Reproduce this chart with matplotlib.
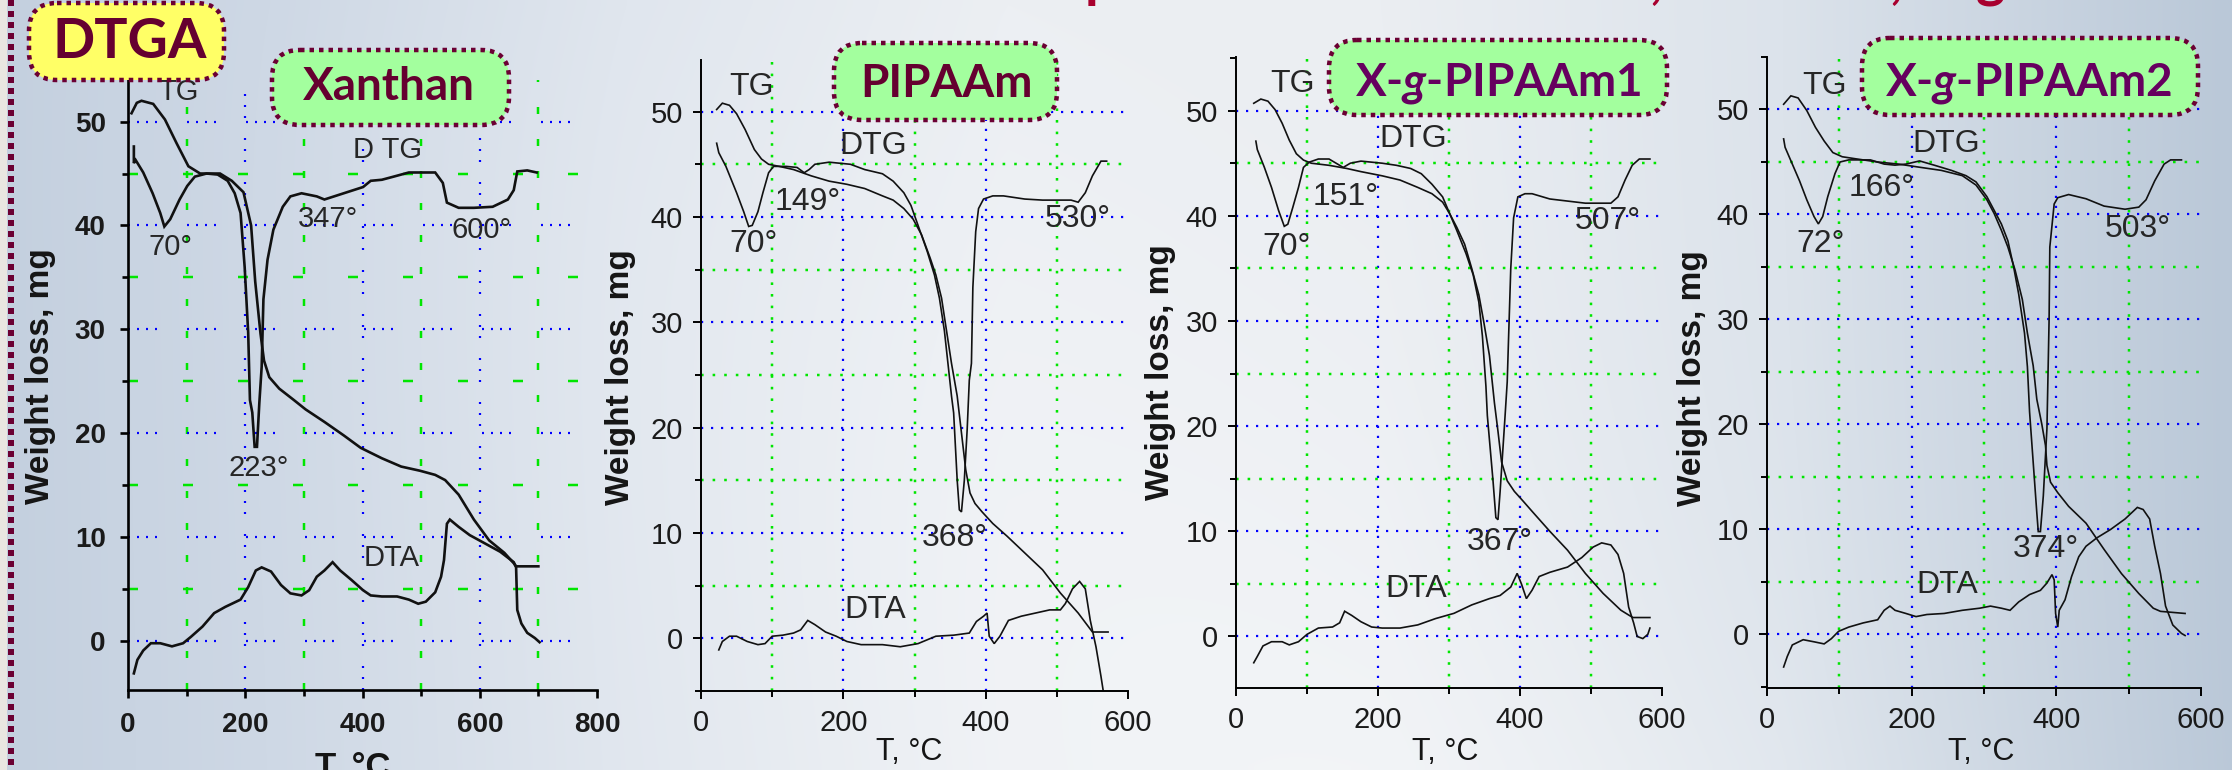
import numpy as np
import matplotlib.pyplot as plt
from matplotlib.patches import FancyBboxPatch, Rectangle
from matplotlib.ticker import MultipleLocator

plt.rcParams['font.family'] = ['Liberation Sans', 'DejaVu Sans']
plt.rcParams['lines.scale_dashes'] = False
plt.rcParams['mathtext.fontset'] = 'custom'
plt.rcParams['mathtext.it'] = 'Lato:italic:bold'
plt.rcParams['mathtext.rm'] = 'Lato:bold'

W, H = 2232, 770
PT = 0.72  # points per pixel at 100 dpi

# ---- Xanthan ----
xan_tg_t = [6, 15, 23, 43, 63, 83, 103, 123, 157, 177, 197, 210, 217, 226, 232, 241, 258, 283, 303,
            335, 368, 397, 433, 466, 498, 524, 541, 564, 590, 616, 642, 658, 662, 700]
xan_tg = [50.8, 51.8, 52.0, 51.7, 50.2, 47.9, 45.7, 45.0, 45.0, 44.3, 43.2, 40.0, 34.6, 29.6, 27.0, 25.4,
          24.3, 23.2, 22.3, 21.1, 19.8, 18.6, 17.6, 16.8, 16.4, 16.0, 15.5, 14.1, 11.7, 9.7, 8.5, 7.5, 7.2, 7.2]
xan_dtg_t = [10, 10, 13, 26, 42, 55, 62, 72, 88, 101, 114, 134, 153, 170, 182, 192, 199, 205, 208, 212,
             216, 220, 224, 228, 231, 238, 248, 264, 277, 296, 322, 335, 368, 401, 414, 433, 453, 479,
             524, 537, 544, 564, 590, 622, 648, 658, 664, 681, 697]
xan_dtg = [47.6, 46.0, 46.3, 45.1, 43.1, 41.2, 39.9, 40.6, 42.5, 43.8, 44.7, 45.0, 44.9, 44.3, 43.1, 41.2,
           36.0, 29.7, 23.2, 22.0, 18.7, 18.7, 22.9, 26.4, 32.9, 36.7, 39.6, 41.8, 42.8, 43.1, 42.8, 42.5,
           43.1, 43.7, 44.3, 44.4, 44.7, 45.1, 45.1, 44.1, 42.2, 41.7, 41.7, 41.8, 42.5, 43.4, 45.2, 45.3, 45.1]
xan_dta_t = [10, 16, 26, 39, 55, 75, 94, 107, 127, 147, 166, 192, 205, 218, 228, 244, 261, 277, 296, 309,
             322, 335, 349, 362, 381, 401, 414, 433, 459, 479, 495, 508, 524, 534, 539, 544, 549, 564, 583,
             609, 635, 658, 662, 664, 671, 681, 694, 702]
xan_dta = [-3.1, -1.8, -0.9, -0.2, -0.2, -0.5, -0.2, 0.4, 1.4, 2.7, 3.3, 4.0, 5.2, 6.8, 7.1, 6.7, 5.4, 4.6,
           4.4, 4.9, 6.2, 6.8, 7.6, 6.8, 5.9, 4.9, 4.4, 4.3, 4.3, 4.0, 3.6, 3.8, 4.7, 6.2, 7.8, 11.3, 11.7,
           11.0, 10.2, 9.4, 8.6, 7.6, 7.1, 3.0, 1.7, 0.8, 0.3, -0.1]

# ---- PIPAAm ----
pip_tg_t = [22, 30, 40, 50, 62, 75, 85, 95, 110, 130, 155, 180, 205, 230, 255, 270, 285, 298, 310, 322,
            330, 338, 345, 352, 360, 366, 372, 378, 385, 395, 410, 430, 455, 480, 505, 530, 550, 572]
pip_tg = [50.2, 50.8, 50.6, 49.8, 48.3, 46.4, 45.5, 45.0, 44.8, 44.5, 43.9, 43.4, 43.1, 42.7, 42.0, 41.6,
          40.8, 39.8, 38.3, 36.1, 34.5, 32.3, 29.2, 26.1, 23.0, 19.5, 16.0, 13.8, 12.8, 12.0, 10.9, 9.7,
          8.1, 6.5, 4.3, 2.4, 0.6, 0.6]
pip_dtg_t = [22, 25, 35, 50, 60, 67, 72, 80, 87, 95, 102, 120, 135, 145, 152, 160, 180, 210, 230, 255,
             270, 285, 295, 305, 318, 328, 335, 342, 347, 352, 355, 360, 363, 366, 370, 374, 377, 380,
             382, 386, 390, 397, 410, 425, 455, 480, 520, 530, 540, 550, 562, 570]
pip_dtg = [47.0, 46.1, 44.8, 42.3, 40.5, 39.1, 39.2, 40.5, 42.3, 44.2, 44.8, 44.8, 44.7, 44.2, 44.5, 45.0,
           45.2, 45.0, 44.5, 44.1, 43.4, 42.3, 41.1, 39.2, 36.7, 34.5, 32.3, 29.2, 26.1, 23.0, 21.4, 15.0,
           12.2, 12.0, 15.0, 19.8, 24.5, 26.1, 33.3, 38.6, 40.8, 41.7, 42.0, 42.0, 41.7, 41.6, 41.6, 41.4,
           42.3, 43.9, 45.3, 45.3]
pip_dta_t = [25, 30, 40, 50, 65, 80, 90, 100, 115, 130, 140, 150, 160, 175, 190, 205, 225, 255, 280, 305,
             330, 355, 377, 387, 397, 402, 405, 412, 420, 432, 450, 470, 490, 505, 512, 522, 532, 540, 547,
             555, 562, 565]
pip_dta = [-1.1, -0.3, 0.2, 0.2, -0.3, -0.6, -0.5, 0.2, 0.3, 0.5, 0.8, 1.7, 1.3, 0.6, 0.2, -0.3, -0.6,
           -0.6, -0.8, -0.5, 0.2, 0.3, 0.5, 1.6, 2.1, 2.4, 0.2, -0.5, 0.2, 1.7, 2.1, 2.4, 2.7, 2.7, 3.3,
           4.7, 5.4, 4.7, 1.7, -0.8, -3.6, -4.9]

# ---- X-g-PIPAAm1 ----
g1_tg_t = [25, 35, 45, 55, 65, 75, 85, 95, 106, 131, 156, 176, 206, 231, 256, 276, 291, 301, 311, 322,
           332, 342, 349, 357, 364, 369, 374, 382, 392, 404, 417, 442, 467, 492, 517, 542, 554, 559, 583]
g1_tg = [50.7, 51.1, 50.9, 50.1, 48.8, 47.2, 45.9, 45.3, 45.0, 44.8, 44.5, 44.2, 43.8, 43.4, 42.7, 42.1,
         41.3, 40.2, 38.9, 37.3, 35.0, 32.5, 29.9, 26.7, 22.2, 19.5, 16.6, 14.8, 13.8, 12.9, 11.9, 10.0,
         8.2, 6.0, 4.1, 2.5, 2.0, 1.8, 1.8]
g1_dtg_t = [28, 30, 40, 50, 60, 68, 73, 80, 88, 95, 103, 116, 131, 141, 151, 161, 176, 206, 226, 246,
            261, 276, 291, 301, 311, 324, 334, 342, 347, 352, 354, 362, 366, 369, 372, 376, 379, 382, 384,
            387, 391, 397, 407, 417, 442, 467, 492, 528, 538, 548, 558, 568, 583]
g1_dtg = [47.1, 46.3, 44.6, 42.7, 40.5, 39.0, 39.2, 40.8, 42.7, 44.6, 45.1, 45.4, 45.4, 45.0, 44.6, 45.0,
          45.2, 45.0, 44.8, 44.5, 44.0, 43.0, 41.8, 40.2, 38.6, 36.4, 34.4, 31.8, 28.6, 23.8, 21.0, 14.8,
          11.3, 11.1, 13.8, 17.9, 21.0, 24.2, 28.6, 35.0, 39.8, 41.8, 42.1, 42.1, 41.6, 41.4, 41.2, 41.2,
          41.8, 43.4, 44.8, 45.4, 45.4]
g1_dta_t = [25, 30, 38, 50, 65, 75, 88, 100, 116, 136, 146, 153, 163, 176, 191, 206, 231, 256, 281, 307,
            332, 357, 372, 387, 396, 402, 409, 417, 427, 442, 467, 487, 503, 515, 528, 538, 546, 553, 560,
            565, 573, 580, 583]
g1_dta = [-2.5, -1.9, -0.9, -0.5, -0.5, -0.8, -0.5, 0.2, 0.8, 0.9, 1.3, 2.4, 2.0, 1.4, 0.9, 0.8, 0.8,
          1.1, 1.7, 2.2, 3.0, 3.6, 3.9, 4.7, 6.0, 5.0, 3.6, 4.4, 5.7, 6.1, 6.6, 7.5, 8.5, 8.9, 8.7, 7.8,
          6.0, 2.8, 1.3, 0.0, -0.2, 0.2, 0.8]

# ---- X-g-PIPAAm2 ----
g2_tg_t = [23, 33, 43, 55, 67, 79, 91, 104, 123, 153, 182, 211, 241, 270, 289, 304, 314, 324, 333, 343,
           353, 360, 368, 373, 380, 385, 387, 392, 402, 417, 441, 466, 490, 514, 534, 544, 578]
g2_tg = [50.5, 51.3, 51.1, 49.9, 48.3, 47.0, 45.9, 45.5, 45.3, 45.0, 44.8, 44.5, 44.2, 43.7, 42.8, 41.4,
         40.1, 38.5, 36.9, 34.7, 31.9, 28.7, 25.6, 22.4, 20.0, 18.0, 16.1, 14.5, 13.5, 12.2, 10.6, 8.1,
         5.8, 3.9, 2.5, 2.2, 2.0]
g2_dtg_t = [23, 25, 35, 45, 55, 65, 71, 77, 84, 94, 101, 113, 143, 162, 177, 192, 211, 231, 255, 275,
            289, 304, 314, 324, 333, 341, 348, 356, 360, 363, 368, 373, 375, 378, 382, 387, 390, 391, 397,
            402, 417, 441, 466, 495, 514, 524, 536, 549, 558, 573]
g2_dtg = [47.2, 46.4, 44.8, 43.2, 41.4, 39.8, 39.1, 39.8, 41.7, 43.9, 45.0, 45.2, 45.2, 44.8, 44.7, 44.8,
          45.1, 44.7, 44.2, 43.7, 43.1, 41.7, 40.4, 39.1, 37.5, 35.0, 32.4, 28.7, 25.5, 21.2, 16.4, 11.6,
          9.8, 9.8, 13.2, 19.6, 30.0, 36.9, 41.0, 41.6, 41.9, 41.5, 40.8, 40.5, 40.7, 41.4, 43.2, 44.8,
          45.2, 45.2]
g2_dta_t = [23, 28, 35, 50, 65, 79, 89, 99, 113, 133, 153, 162, 170, 177, 192, 206, 221, 245, 270, 294,
            309, 324, 336, 348, 363, 378, 387, 394, 397, 399, 402, 404, 412, 421, 431, 441, 456, 475, 495,
            512, 520, 529, 536, 544, 551, 561, 573, 578]
g2_dta = [-3.1, -2.1, -1.0, -0.5, -0.7, -0.9, -0.4, 0.3, 0.7, 1.1, 1.4, 2.3, 2.7, 2.3, 2.0, 1.7, 1.9,
          2.0, 2.3, 2.5, 2.7, 2.5, 2.3, 3.1, 3.8, 4.2, 4.9, 5.7, 5.2, 2.0, 0.7, 2.3, 3.3, 5.5, 7.4, 8.4,
          9.2, 10.0, 11.0, 12.1, 11.9, 11.0, 8.4, 5.8, 2.7, 0.9, 0.1, -0.1]

# curve labels: (text, T, y)
xan_labels = [('TG', 87, 52.8), ('D TG', 443, 47.3), ('70°', 73, 37.9), ('347°', 342, 40.6),
              ('600°', 603, 39.6), ('223°', 223, 16.7), ('DTA', 450, 8.0)]
pip_labels = [('TG', 71, 52.3), ('DTG', 242, 46.7), ('70°', 74, 37.4), ('149°', 150, 41.4),
              ('530°', 529, 39.8), ('368°', 357, 9.5), ('DTA', 245, 2.7)]
g1_labels = [('TG', 79, 52.5), ('DTG', 249, 47.3), ('70°', 71, 37.0), ('151°', 155, 41.8),
             ('507°', 524, 39.5), ('367°', 372, 9.0), ('DTA', 254, 4.5)]
g2_labels = [('TG', 79, 52.2), ('DTG', 248, 46.7), ('72°', 74, 37.2), ('166°', 158, 42.5),
             ('503°', 513, 38.6), ('374°', 385, 8.1), ('DTA', 249, 4.7)]

sample_names = ['Xanthan', 'PIPAAm', r'X-$g$-PIPAAm1', r'X-$g$-PIPAAm2']

fig = plt.figure(figsize=(W / 100, H / 100), dpi=100)

# slide background
bg = fig.add_axes([0, 0, 1, 1], zorder=-10)
xs = np.linspace(0, 1, 300)
ys = np.linspace(0, 1, 100)[:, None]
stops = [0, 0.12, 0.28, 0.45, 0.62, 0.8, 1.0]
rgb = [[196, 208, 223], [206, 216, 229], [224, 230, 238], [236, 239, 243], [235, 238, 242],
       [220, 227, 235], [186, 200, 216]]
base = np.stack([np.interp(xs, stops, [c[i] for c in rgb]) for i in range(3)], axis=-1)[None, :, :]
sheen = 0.35 * np.exp(-((xs[None, :] - 0.35 - 0.25 * ys) / 0.22) ** 2) * ys
img = base + (255 - base) * sheen[:, :, None]
bg.imshow(img / 255, extent=[0, W, H, 0], aspect='auto', interpolation='bilinear')
bg.set_xlim(0, W)
bg.set_ylim(H, 0)
bg.axis('off')


def px_rect(left, right, top, bottom):
    return [left / W, 1 - bottom / H, (right - left) / W, (bottom - top) / H]


def make_panel(rect, xmax, ylim, series, labels, first):
    ax = fig.add_axes(rect)
    ax.patch.set_alpha(0)
    ax.set_xlim(0, xmax)
    ax.set_ylim(*ylim)
    for s in ('top', 'right'):
        ax.spines[s].set_visible(False)
    lw = 1.9 if first else 1.4
    for s in ('left', 'bottom'):
        ax.spines[s].set_linewidth(lw)
    ax.xaxis.set_major_locator(MultipleLocator(200))
    ax.xaxis.set_minor_locator(MultipleLocator(100))
    ax.yaxis.set_major_locator(MultipleLocator(10))
    ax.yaxis.set_minor_locator(MultipleLocator(5))
    ax.tick_params(which='major', direction='out', length=6, width=lw,
                   labelsize=20 if first else 21, labelcolor='#1a1a1a', pad=10 if first else 7)
    ax.tick_params(which='minor', direction='out', length=4, width=lw)

    # blue dotted lines on the labelled values, green on the half steps
    if first:
        blue_h = (0, tuple(v * PT for v in (2, 7, 2, 7, 2, 7, 2, 30)))
        blue_v = (0, tuple(v * PT for v in (2, 9, 2, 9, 2, 20)))
        green_h = (0, (10 * PT, 45 * PT))
        green_v = (0, (7 * PT, 25 * PT))
    else:
        blue_h = blue_v = (0, (2.2 * PT, 7.8 * PT))
        green_h = green_v = (0, (2.6 * PT, 9 * PT))
    for x in range(100, xmax, 100):
        if x % 200:
            ax.axvline(x, color='#00e600', lw=2.5 * PT, ls=green_v, zorder=0.5)
        else:
            ax.axvline(x, color='#0000ff', lw=2.2 * PT, ls=blue_v, zorder=0.5)
    for y in range(0, 51, 5):
        if y % 10:
            ax.axhline(y, color='#00e600', lw=2.5 * PT, ls=green_h, zorder=0.5)
        else:
            ax.axhline(y, color='#0000ff', lw=2.2 * PT, ls=blue_h, zorder=0.5)

    if first:
        for lab in ax.get_xticklabels() + ax.get_yticklabels():
            lab.set_fontweight('bold')
    clw = 1.9 if first else 1.2
    for t, v in series:
        ax.plot(t, v, color='#111111', lw=clw, solid_joinstyle='miter')
    for s, x, y in labels:
        ax.text(x, y, s, ha='center', va='center', color='#262626',
                fontsize=21 if first else 23)
    return ax


make_panel(px_rect(128, 597, 80, 690), 800, (-4.7, 54),
           [(xan_tg_t, xan_tg), (xan_dtg_t, xan_dtg), (xan_dta_t, xan_dta)], xan_labels, True)
make_panel(px_rect(701, 1128, 60, 691), 600, (-5.0, 54.9),
           [(pip_tg_t, pip_tg), (pip_dtg_t, pip_dtg), (pip_dta_t, pip_dta)], pip_labels, False)
make_panel(px_rect(1236, 1662, 57, 688), 600, (-4.9, 55.1),
           [(g1_tg_t, g1_tg), (g1_dtg_t, g1_dtg), (g1_dta_t, g1_dta)], g1_labels, False)
make_panel(px_rect(1767, 2201, 57, 688), 600, (-5.1, 55.0),
           [(g2_tg_t, g2_tg), (g2_dtg_t, g2_dtg), (g2_dta_t, g2_dta)], g2_labels, False)

# overlay in pixel coordinates for labels and badges
ov = fig.add_axes([0, 0, 1, 1], zorder=10)
ov.set_xlim(0, W)
ov.set_ylim(H, 0)
ov.axis('off')
ov.patch.set_alpha(0)

maroon = '#6b0033'
# left dotted border and paper edge
ov.add_patch(Rectangle((0, 0), 7, H, color='#e9e7e2', lw=0))
ov.plot([11, 11], [0, H], color=maroon, lw=6 * PT, linestyle=(0, (6 * PT, 5 * PT)))

# heading runs off the top edge; only the descenders show
for ch, x in [('p', 1100), (',', 1656), (',', 1896), ('g', 1990)]:
    ov.text(x, -3, ch, ha='center', va='baseline', fontsize=40, color='#a8002e',
            family=['Lato', 'DejaVu Sans'], fontweight='bold')

# axis titles
for x, y in [(41, 376), (621, 377), (1160, 372), (1692, 378)]:
    ov.text(x, y, 'Weight loss, mg', rotation=90, ha='center', va='center',
            fontsize=24, fontweight='bold', color='#151515')
ov.text(353, 777, 'T, °C', ha='center', va='baseline', fontsize=25, fontweight='bold', color='#151515')
for x in (909, 1445, 1981):
    ov.text(x, 760, 'T, °C', ha='center', va='baseline', fontsize=22, color='#151515')

# badges: (text, left, right, top, bottom, text x, baseline, fill, text colour, size)
badges = [('DTGA', 29, 224, 3, 80, 130, 58, '#ffff66', '#650030', 40),
          (sample_names[0], 272, 509, 50, 125, 389, 100, '#a3ff9e', '#650030', 33),
          (sample_names[1], 834, 1057, 43, 120, 946, 97, '#a3ff9e', '#650030', 33),
          (sample_names[2], 1329, 1667, 40, 115, 1498, 95, '#a3ff9e', '#66005f', 33),
          (sample_names[3], 1862, 2198, 38, 115, 2029, 95, '#a3ff9e', '#66005f', 33)]
for text, l, r, t, b, tx, ty, fc, tc, fs in badges:
    ov.add_patch(FancyBboxPatch((l, t), r - l, b - t, boxstyle='round,pad=0,rounding_size=28',
                                fc=fc, ec=maroon, lw=4.5 * PT,
                                linestyle=(0, (4.5 * PT, 5 * PT))))
    ov.text(tx, ty, text, ha='center', va='baseline', fontsize=fs, fontweight='bold',
            color=tc, family=['Lato', 'DejaVu Sans'])

fig.savefig('out.png', dpi=100)
